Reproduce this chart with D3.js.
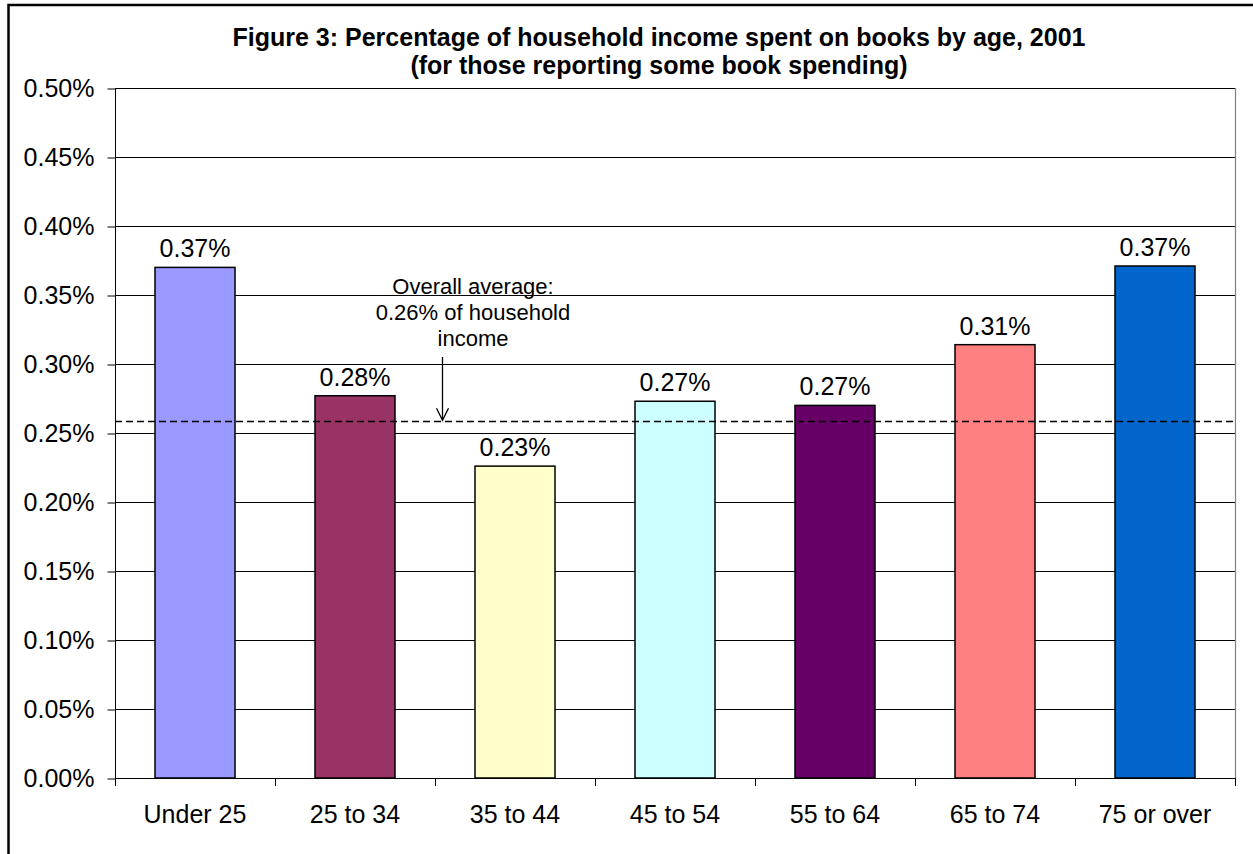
<!DOCTYPE html>
<html>
<head>
<meta charset="utf-8">
<script src="https://cdn.jsdelivr.net/npm/d3@7"></script>
<style>
  html, body { margin: 0; padding: 0; background: #fff; }
  svg { display: block; font-family: "Liberation Sans", Arial, sans-serif; }
</style>
</head>
<body>
<svg id="chart" width="1253" height="854"></svg>
<script>
// ---- Data ----
const categories = ["Under 25", "25 to 34", "35 to 44", "45 to 54", "55 to 64", "65 to 74", "75 or over"];
const values = [0.00370, 0.00277, 0.00226, 0.00273, 0.00270, 0.00314, 0.00371];
const labels = ["0.37%", "0.28%", "0.23%", "0.27%", "0.27%", "0.31%", "0.37%"];
const barColors = ["#9999FF", "#993366", "#FFFFCC", "#CCFFFF", "#660066", "#FF8080", "#0066CC"];
const yTicks = [0, 0.0005, 0.0010, 0.0015, 0.0020, 0.0025, 0.0030, 0.0035, 0.0040, 0.0045, 0.0050];
const overallAverage = 0.002585;
const titleLines = ["Figure 3: Percentage of household income spent on books by age, 2001",
                    "(for those reporting some book spending)"];
const annotationLines = ["Overall average:", "0.26% of household", "income"];

// ---- Layout ----
const W = 1253, H = 854;
const plot = { left: 115, right: 1235, top: 88, bottom: 778 };
const svg = d3.select("#chart");

const x = d3.scaleBand().domain(categories).range([plot.left, plot.right])
  .paddingInner(0.5).paddingOuter(0.25);
const y = d3.scaleLinear().domain([0, 0.005]).range([plot.bottom, plot.top]);
const fmt = d3.format(".2%");

// outer frame (only top & left visible)
svg.append("rect").attr("x", 8.5).attr("y", 5).attr("width", W + 20).attr("height", H + 20)
  .attr("fill", "none").attr("stroke", "#000").attr("stroke-width", 2.5);

// title
svg.append("g").selectAll("text").data(titleLines).join("text")
  .attr("x", 659).attr("y", (d, i) => 46 + i * 28)
  .attr("text-anchor", "middle").attr("font-weight", "bold").attr("font-size", 25)
  .attr("fill", "#000").text(d => d);

// gridlines
svg.append("g").selectAll("line").data(yTicks.filter(d => d > 0)).join("line")
  .attr("x1", plot.left).attr("x2", plot.right)
  .attr("y1", d => Math.round(y(d)) + 0.5).attr("y2", d => Math.round(y(d)) + 0.5)
  .attr("stroke", "#000").attr("stroke-width", 1);

// plot area right border
svg.append("line").attr("x1", plot.right + 0.5).attr("x2", plot.right + 0.5)
  .attr("y1", plot.top).attr("y2", plot.bottom)
  .attr("stroke", "#808080").attr("stroke-width", 1.2);

// y axis
const yAxis = d3.axisLeft(y).tickValues(yTicks).tickFormat(fmt).tickSize(8).tickPadding(13);
const gy = svg.append("g").attr("transform", `translate(${plot.left + 0.5},0.5)`).call(yAxis);
gy.select(".domain").attr("stroke", "#000").attr("d", `M0,${plot.top}V${plot.bottom + 7}`);
gy.selectAll(".tick line").attr("stroke", "#000");
gy.selectAll(".tick text").attr("font-size", 25).attr("font-family", "Liberation Sans, Arial, sans-serif")
  .attr("fill", "#000").attr("dy", "0.32em");

// bars
svg.append("g").selectAll("rect").data(values).join("rect")
  .attr("x", (d, i) => x(categories[i]))
  .attr("y", d => y(d))
  .attr("width", x.bandwidth())
  .attr("height", d => plot.bottom - y(d))
  .attr("fill", (d, i) => barColors[i])
  .attr("stroke", "#000").attr("stroke-width", 1.5);

// x axis line + ticks at band boundaries
svg.append("line").attr("x1", plot.left).attr("x2", plot.right + 1)
  .attr("y1", plot.bottom + 0.5).attr("y2", plot.bottom + 0.5)
  .attr("stroke", "#000").attr("stroke-width", 1.2);
const boundaries = categories.map((c, i) => x(c) - x.step() * x.paddingInner() / 2).concat([plot.right]);
svg.append("g").selectAll("line").data(boundaries).join("line")
  .attr("x1", d => Math.round(d) + 0.5).attr("x2", d => Math.round(d) + 0.5)
  .attr("y1", plot.bottom).attr("y2", plot.bottom + 8)
  .attr("stroke", "#000");

// x labels
svg.append("g").selectAll("text").data(categories).join("text")
  .attr("x", d => x(d) + x.bandwidth() / 2).attr("y", 823)
  .attr("text-anchor", "middle").attr("font-size", 25).attr("fill", "#000").text(d => d);

// data labels
svg.append("g").selectAll("text").data(values).join("text")
  .attr("x", (d, i) => x(categories[i]) + x.bandwidth() / 2)
  .attr("y", d => y(d) - 10)
  .attr("text-anchor", "middle").attr("font-size", 25).attr("fill", "#000")
  .text((d, i) => labels[i]);

// overall average dashed line
svg.append("line").attr("x1", plot.left).attr("x2", plot.right)
  .attr("y1", Math.round(y(overallAverage)) + 0.5).attr("y2", Math.round(y(overallAverage)) + 0.5)
  .attr("stroke", "#000").attr("stroke-width", 1.5).attr("stroke-dasharray", "7,4");

// annotation
const annX = 473;
svg.append("g").selectAll("text").data(annotationLines).join("text")
  .attr("x", annX).attr("y", (d, i) => 294 + i * 26)
  .attr("text-anchor", "middle").attr("font-size", 22).attr("fill", "#000").text(d => d);

// arrow
const arrowX = 442.5, arrowTop = 357, arrowEnd = y(overallAverage) - 1;
svg.append("line").attr("x1", arrowX).attr("x2", arrowX).attr("y1", arrowTop).attr("y2", arrowEnd)
  .attr("stroke", "#000").attr("stroke-width", 1.3);
svg.append("path")
  .attr("d", `M${arrowX - 6},${arrowEnd - 12}L${arrowX},${arrowEnd}L${arrowX + 6},${arrowEnd - 12}`)
  .attr("fill", "none").attr("stroke", "#000").attr("stroke-width", 1.3);
</script>
</body>
</html>
